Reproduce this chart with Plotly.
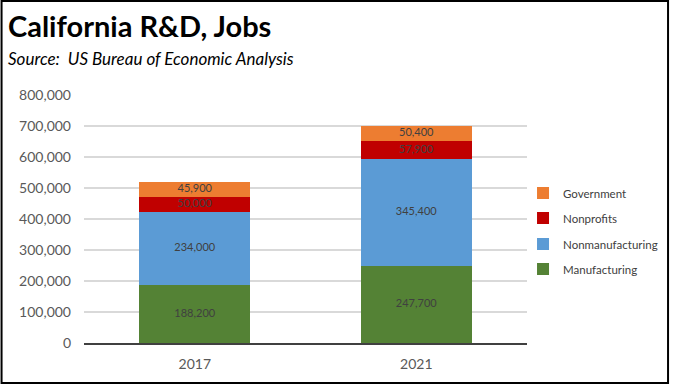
import plotly.graph_objects as go

years = ["2017", "2021"]
manufacturing = [188200, 247700]
nonmanufacturing = [234000, 345400]
nonprofits = [50000, 57900]
government = [45900, 50400]

series = [
    ("Manufacturing", manufacturing, "#548235", "legend4"),
    ("Nonmanufacturing", nonmanufacturing, "#5B9BD5", "legend3"),
    ("Nonprofits", nonprofits, "#C00000", "legend2"),
    ("Government", government, "#ED7D31", "legend"),
]

W, H = 675, 389
ML, MR, MT, MB = 84, 145, 95, 46
PW, PH = W - ML - MR, H - MT - MB

def px(x):
    return (x - ML) / PW

def py(y):
    return (H - MB - y) / PH

fig = go.Figure()
base = [0] * len(years)
label_x, label_y, label_t = [], [], []
for name, vals, color, lg in series:
    fig.add_trace(go.Bar(
        x=years, y=vals, name=name, marker=dict(color=color, line=dict(width=0)),
        textposition="none", legend=lg, hoverinfo="skip",
    ))
    for i, v in enumerate(vals):
        label_x.append(years[i])
        label_y.append(base[i] + v / 2)
        label_t.append(f"{v:,}")
        base[i] += v

fig.add_trace(go.Scatter(
    x=label_x, y=label_y, text=label_t, mode="text", showlegend=False,
    textfont=dict(family="Lato", size=11, color="#404040"), hoverinfo="skip",
))

legend_y = {"legend": 193, "legend2": 218, "legend3": 244, "legend4": 269}
legend_common = dict(
    xanchor="left", yanchor="middle", x=px(526), bgcolor="rgba(0,0,0,0)",
    font=dict(family="Lato", size=11.5, color="#404040"), itemwidth=30,
)

fig.update_layout(
    width=W, height=H,
    margin=dict(l=ML, r=MR, t=MT, b=MB),
    paper_bgcolor="white", plot_bgcolor="white",
    barmode="stack", bargap=0.5,
    showlegend=True,
    xaxis=dict(
        showgrid=False, showline=True, linecolor="#404040", linewidth=1.5,
        ticks="", tickfont=dict(family="Lato", size=14, color="#595959"),
        ticklabelstandoff=8,
    ),
    yaxis=dict(
        range=[0, 800000], dtick=100000, tickformat=",",
        showgrid=True, gridcolor="#D9D9D9", gridwidth=1.5,
        zeroline=False, showline=False, ticks="",
        tickfont=dict(family="Lato", size=14, color="#595959"),
        ticklabelstandoff=12,
    ),
    annotations=[
        dict(text="<b>California R&D, Jobs</b>", xref="paper", yref="paper",
             x=px(5), y=py(26), xanchor="left", yanchor="middle", showarrow=False,
             font=dict(family="Lato", size=29, color="black")),
        dict(text="<i>Source:  US Bureau of Economic Analysis</i>", xref="paper", yref="paper",
             x=px(5), y=py(58), xanchor="left", yanchor="middle", showarrow=False,
             font=dict(family="Lato", size=17, color="black")),
    ],
    shapes=[
        dict(type="rect", xref="paper", yref="paper",
             x0=px(1), x1=px(672), y0=py(383), y1=py(1),
             line=dict(color="black", width=2), fillcolor="rgba(0,0,0,0)", layer="above"),
    ],
)
for lg, yy in legend_y.items():
    fig.update_layout({lg: dict(legend_common, y=py(yy))})

fig.write_html(
    "out.html",
    config={"displayModeBar": False, "staticPlot": True},
    post_script="document.body.style.margin='0';document.body.style.overflow='hidden';",
)
